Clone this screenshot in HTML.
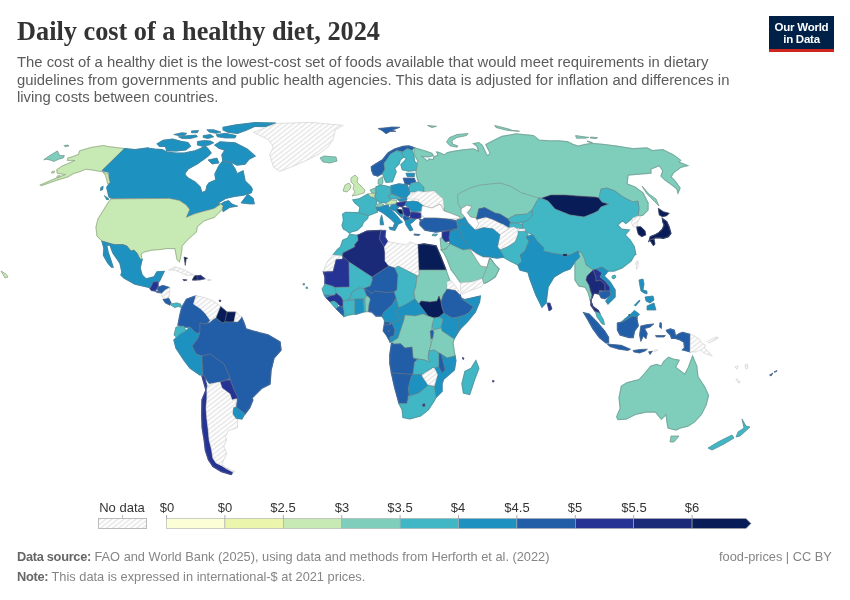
<!DOCTYPE html>
<html><head><meta charset="utf-8">
<style>
html,body{margin:0;padding:0;background:#fff;width:850px;height:600px;overflow:hidden;position:relative;font-family:"Liberation Sans",sans-serif;}
.t{position:absolute;white-space:nowrap;will-change:transform;}
#title{left:17px;top:17px;font-family:"Liberation Serif",serif;font-weight:bold;font-size:26.3px;line-height:30px;color:#333;}
#sub{left:16.5px;top:53.5px;font-size:14.85px;line-height:17.5px;color:#5b5b5b;white-space:nowrap;}
#logo{will-change:transform;position:absolute;left:769px;top:16px;width:65px;height:33px;background:#002147;border-bottom:3px solid #ce261e;color:#fff;font-weight:bold;font-size:11.5px;line-height:12.2px;text-align:center;}
#logo div{padding-top:4.5px;letter-spacing:-0.25px}
.foot{font-size:12.8px;line-height:15px;color:#858585;}
.foot b{color:#666;letter-spacing:-0.3px}
.lab{will-change:transform;position:absolute;font-size:13px;line-height:15px;color:#333;top:500px;transform:translateX(-50%);white-space:nowrap}
</style></head><body>
<div class="t" id="title">Daily cost of a healthy diet, 2024</div>
<div class="t" id="sub">The cost of a healthy diet is the lowest-cost set of foods available that would meet requirements in dietary<br>guidelines from governments and public health agencies. This data is adjusted for inflation and differences in<br>living costs between countries.</div>
<div id="logo"><div>Our World<br>in Data</div></div>

<svg id="map" width="850" height="600" style="position:absolute;left:0;top:0" viewBox="0 0 850 600">
<defs>
<pattern id="hatch" patternUnits="userSpaceOnUse" width="3.7" height="3.7" patternTransform="rotate(52)"><rect width="3.7" height="3.7" fill="#ffffff"/><rect x="0" y="0" width="1.4" height="3.7" fill="#e5e5e5"/></pattern>
</defs>
<g id="world">
<g><path d="M124.4,148.6 109.1,146.8 103.2,145.6 91.5,147.4 79.7,150.9 78.5,154.5 72.6,156.8 67.9,158 67.4,160.4 75,160.4 70.3,162.7 62.1,166.2 56.8,169.8 57.4,173.3 65.6,174.5 53.8,179.2 40.3,185.1 41.5,185.6 56.2,180.4 67.9,176.8 73.8,173.3 78.5,172.1 85.6,169.2 91.5,169.8 97.4,170.9 102.1,171.5 105.6,173 107.9,173.3 109.1,179.2 110.3,182.7 107.9,183.9 105.6,175.6 102.1,170.4Z" fill="#c7e9b4" stroke="#c7e9b4" stroke-width="1.4"/>
<path d="M52,171.5 54.5,171 54,173 51.5,173Z" fill="#c7e9b4" stroke="#c7e9b4" stroke-width="0.5"/>
<path d="M57,176 60,175.5 59.5,177 57,177.5Z" fill="#c7e9b4" stroke="#c7e9b4" stroke-width="0.5"/>
<path d="M43.8,159.8 47.9,156.8 57.4,150.9 59.7,155.6 64.4,155.6 63.2,158 58.5,159.2 53.8,161.5 51.5,160.4 46.8,159.2Z" fill="#7fcdbb" stroke="#7fcdbb" stroke-width="0.5"/>
<path d="M64,145.6 68,145 69,146 65,146.6Z" fill="#7fcdbb" stroke="#7fcdbb" stroke-width="0.5"/>
<path d="M124.4,148.6 135,149.8 148,148 150,148.6 155,149.2 162.1,149.8 166.8,152.1 176.2,153.3 185,153 195,151 200,149 205,146 208,149 211,153 208,156 204,159 197,164 188,169 185,173 185,175 188,178 195,182 200,187 202,193 206,191 207,186 209,183 216,180 215,174 219,166 223,161 231,163 235,169 237,174 243,171 245,181 251,187 252.2,189.5 251.1,192.8 243.2,195.1 234.3,196.2 225.4,198.4 216.4,204 220.9,204 217.5,206.2 214.2,208.5 201.9,211.8 194.1,214.1 186.2,217.4 189.6,209.6 186.2,205.1 179.5,200.6 169.5,198.4 135,198.6 111.5,198.6 109.1,196.8 106.8,187.4 110.3,182.7 109.1,172.1 102.1,170.4Z" fill="#1d91c0" stroke="#1d91c0" stroke-width="1.4"/>
<path d="M241,202.9 247.7,193.9 253.3,198.4 254.4,204 250,204Z" fill="#1d91c0" stroke="#1d91c0" stroke-width="0.5"/>
<path d="M220.9,204 224.2,201.8 228.7,200.6 232.1,204 237.7,206.2 229.8,207.4 223.1,211.8 222,208.5 223.1,206.2Z" fill="#1d91c0" stroke="#1d91c0" stroke-width="0.5"/>
<path d="M100.9,187.4 103.2,186.2 102.6,189.8 100.3,190.4Z" fill="#1d91c0" stroke="#1d91c0" stroke-width="0.5"/>
<path d="M104.4,195.6 109.1,199.2 106.8,199.8Z" fill="#1d91c0" stroke="#1d91c0" stroke-width="0.5"/>
<path d="M215,145 220,142 235,143 247,149 255,156 249,159 245,164 237,165 231,162 223,161 222,155 225,150 219,148Z" fill="#1d91c0" stroke="#1d91c0" stroke-width="1.4"/>
<path d="M208,160 217,158 219,163 212,164Z" fill="#1d91c0" stroke="#1d91c0" stroke-width="0.5"/>
<path d="M157.4,143.9 163.2,140.4 172.6,139.2 180.9,141.5 187.9,142.7 190.3,146.2 185.6,149.8 176.2,150.9 166.8,150.9 165.6,146.2 159.7,146.2Z" fill="#1d91c0" stroke="#1d91c0" stroke-width="1.4"/>
<path d="M197.4,141.5 204.4,140.4 210.3,140.9 213.8,142.7 209.1,145.1 202.1,146.2 197.4,145.1Z" fill="#1d91c0" stroke="#1d91c0" stroke-width="0.5"/>
<path d="M173.8,134.5 182.1,132.7 186.8,133.3 184.4,135.6 178.5,135.6Z" fill="#1d91c0" stroke="#1d91c0" stroke-width="0.5"/>
<path d="M178.5,136.8 187.9,135.6 196.2,135.1 197.4,136.8 190.3,138.6 182.1,138.6Z" fill="#1d91c0" stroke="#1d91c0" stroke-width="0.5"/>
<path d="M191.5,130.9 198.5,130.4 197.4,132.7 191.5,132.7Z" fill="#1d91c0" stroke="#1d91c0" stroke-width="0.5"/>
<path d="M203.2,135.6 210.3,134.5 213.8,136.8 207.9,138.6 203.2,137.4Z" fill="#1d91c0" stroke="#1d91c0" stroke-width="0.5"/>
<path d="M206.8,129.8 213.8,129.8 220.9,132.1 216.2,133.3 209.1,132.1Z" fill="#1d91c0" stroke="#1d91c0" stroke-width="0.5"/>
<path d="M216.2,134.5 225.6,133.3 236.2,135.6 235,138 225.6,138 217.4,136.8Z" fill="#1d91c0" stroke="#1d91c0" stroke-width="0.5"/>
<path d="M223.2,127.4 235,125.1 255,122.7 276,123.3 266,126.5 255,126.2 246.8,129.8 237.4,133.3 228,132.1 223.2,129.8Z" fill="#1d91c0" stroke="#1d91c0" stroke-width="1.4"/>
<path d="M253.8,132.3 276,123.6 310.6,122.4 342.7,125.4 335.3,129.8 332.8,139.7 327.9,147.1 318,154.5 303.2,161.9 288.3,168.1 279.7,171.3 273.5,166.9 269.8,154.5 273.5,147.1 268.6,139.7 258.7,134.8Z" fill="#fff" stroke="#f2f2f2" stroke-width="1.4"/>
<path d="M320,158 324,156 336,157 337,161 330,163 323,162Z" fill="#7fcdbb" stroke="#7fcdbb" stroke-width="0.5"/>
<path d="M378,128.5 386,127.8 392,127 400,127.3 396,128.8 392,130 396,131.5 390,131.5 386,133.8 382,130.5Z" fill="#225ea8" stroke="#225ea8" stroke-width="0.5"/>
<path d="M457,147.2 450,145.8 446.5,142 449.5,137.5 457,134.5 468.2,133.5 466.5,135.5 457,137.5 452,140.5 452.5,144 458,146Z" fill="#7fcdbb" stroke="#7fcdbb" stroke-width="0.5"/>
<path d="M427.6,125.5 436.5,126.3 432,127.5Z" fill="#7fcdbb" stroke="#7fcdbb" stroke-width="0.5"/>
<path d="M494.7,125.5 508.8,129 512.3,130.4 519.4,131.2 508,130.5 496,127.5Z" fill="#7fcdbb" stroke="#7fcdbb" stroke-width="0.5"/>
<path d="M371.4,166.8 375.6,164 382.6,159.8 388.3,152.7 394.6,149.2 403.1,146.4 408.8,146 414.4,147.8 411.6,149.9 407.3,148.5 403.1,151.3 396.8,150.6 390.4,154.1 386.2,160.5 384,163.3 384.8,169.6 382.6,173.2 377.7,176 373.5,174.6 371.7,170.3Z" fill="#225ea8" stroke="#225ea8" stroke-width="1.4"/>
<path d="M386.2,160.5 390.4,154.1 396.8,150.6 401.7,152.7 403.8,156.9 400.3,159.8 398.9,164 394.6,168.2 396.1,171.8 393.9,177.4 392.5,181.6 386.2,182.3 384.8,179.5 382.6,173.2 384.8,169.6 384,163.3Z" fill="#41b6c4" stroke="#41b6c4" stroke-width="1.4"/>
<path d="M401.7,152.7 407.3,148.5 411.6,149.9 413.7,154.1 414.4,161.2 418.6,165.4 415.8,170.3 408.8,171.1 402.4,169.6 401,164.7 404.5,161.2 406.6,158.3 403.8,156.9Z" fill="#41b6c4" stroke="#41b6c4" stroke-width="1.4"/>
<path d="M351,178 355,175 358,178 357,182 361,186 365,190 364,193 357,195 352,196 355,192 353,189 354,185 351,182Z" fill="#c7e9b4" stroke="#c7e9b4" stroke-width="0.5"/>
<path d="M343,191 345,185 349,183 351,186 350,189 347,192Z" fill="#c7e9b4" stroke="#c7e9b4" stroke-width="0.5"/>
<path d="M353,200 359,199 368,194 371,197 377,200 376,205 377,210 377.3,212.1 368.2,215.6 359,212.8 360,207 355,203Z" fill="#41b6c4" stroke="#41b6c4" stroke-width="1.4"/>
<path d="M342.8,214.2 345.6,212.4 359,212.8 368.2,215.6 367.5,218.4 363.2,222.6 361.8,226.2 356.9,230.4 351.2,231.8 349.8,233.2 346.3,230.4 343.5,229 342.1,225.5 343.5,220.5Z" fill="#41b6c4" stroke="#41b6c4" stroke-width="1.4"/>
<path d="M368,194 374,193 375,197 371,197Z" fill="#c7e9b4" stroke="#c7e9b4" stroke-width="0.5"/>
<path d="M370,190 375,188 376,193 372,193Z" fill="#7fcdbb" stroke="#7fcdbb" stroke-width="0.5"/>
<path d="M376,187 381,185 390,187 391,194 388,196 391,200 388,203 379,202 377,200 375,197 376,193Z" fill="#41b6c4" stroke="#41b6c4" stroke-width="1.4"/>
<path d="M378.4,179.5 382.6,176.7 383,183 381,185 378,184Z" fill="#7fcdbb" stroke="#7fcdbb" stroke-width="0.5"/>
<path d="M391,186 399,184 407,185 409,190 410,195 407,198 400,197 392,194Z" fill="#1d91c0" stroke="#1d91c0" stroke-width="1.4"/>
<path d="M405.9,173.2 414.4,173.2 414.4,176.7 407.3,176.7Z" fill="#1d91c0" stroke="#1d91c0" stroke-width="0.5"/>
<path d="M403.1,178.1 414.4,178.1 415.8,182 413,183 411,185 405,184 404,181Z" fill="#225ea8" stroke="#225ea8" stroke-width="0.5"/>
<path d="M411,183 420,182 424,187 424,192 420,192 410,192 409,187Z" fill="#41b6c4" stroke="#41b6c4" stroke-width="0.5"/>
<path d="M388,196 392,194 400,197 397,199 391,199Z" fill="#41b6c4" stroke="#41b6c4" stroke-width="0.5"/>
<path d="M397,199 407,198 407,200 400,201.5Z" fill="#1d91c0" stroke="#1d91c0" stroke-width="0.5"/>
<path d="M385,204 391,200 397,200.5 396,204 389,204.5Z" fill="#c7e9b4" stroke="#c7e9b4" stroke-width="0.5"/>
<path d="M375,205 381,203 384,205 381,207 376,207Z" fill="#7fcdbb" stroke="#7fcdbb" stroke-width="0.5"/>
<path d="M391,205 396,204 399,207 397,209 402,210 403,214 402,218 395,211 390,209Z" fill="#1d91c0" stroke="#1d91c0" stroke-width="0.5"/>
<path d="M396,203 407,201 405,205 402,207 397,206Z" fill="#253494" stroke="#253494" stroke-width="0.5"/>
<path d="M406,202 413,201 419,202 423,205 422,211 412,212 409,208 405,205Z" fill="#1d91c0" stroke="#1d91c0" stroke-width="0.5"/>
<path d="M419,200 423,201 424,206 423,205Z" fill="#41b6c4" stroke="#41b6c4" stroke-width="0.5"/>
<path d="M410,213 412,212 421,213 421,218 415,219 410,218Z" fill="#253494" stroke="#253494" stroke-width="0.5"/>
<path d="M402,207 409,208 411,214 408,217 404,215 403,210Z" fill="#253494" stroke="#253494" stroke-width="0.5"/>
<path d="M396,209 402,210 403,214 400,214Z" fill="#081d58" stroke="#081d58" stroke-width="0.5"/>
<path d="M404,215 408,217 410,218 410,219 405,221 403,218Z" fill="#225ea8" stroke="#225ea8" stroke-width="0.5"/>
<path d="M380,207 388,205 390,209 395,214 400,220 402,222 398,224 396,228 393,228 395,223 391,219 386,215 382,212 380,211 377,210 376,207Z" fill="#1d91c0" stroke="#1d91c0" stroke-width="1.4"/>
<path d="M389,227 396,228 395,230.5 390,229.5Z" fill="#1d91c0" stroke="#1d91c0" stroke-width="0.5"/>
<path d="M381.6,214.9 382.3,217.7 383.7,224.8 380.2,224.8 380.2,219.8Z" fill="#1d91c0" stroke="#1d91c0" stroke-width="0.5"/>
<path d="M405,221 410,219 416,219 413,222 410,224 413,230 410,231 406,225Z" fill="#1d91c0" stroke="#1d91c0" stroke-width="0.5"/>
<path d="M414,234 420,234.5 419,235.5 414,235Z" fill="#225ea8" stroke="#225ea8" stroke-width="0.5"/>
<path d="M414.2,147.8 419.1,149.2 426.2,151.3 431.8,153.4 433.2,155.5 428.3,156.9 421.2,156.2 424.1,158.3 427.6,161.2 429,159.1 433.2,159.8 433.9,156.9 438.2,155.5 436.8,152 439.6,152.7 442.4,154.1 444.5,154.8 447.3,152.7 454.4,151.3 462.9,149.9 464.7,149.8 473.5,148.9 478.8,151.5 477,146.2 473.5,143.6 478.8,142.7 482.3,145.4 485.9,153.3 487.6,155.9 490.3,153.3 485.9,144.5 492.9,141 501.8,136.5 515.9,133.9 533.5,135.6 538.8,140.1 550,140.9 558.8,140.9 567.6,141.8 572.9,144.4 578.2,146.2 585.3,144.4 592.4,143.5 602.9,144.4 617,146.2 627.6,147.9 632.9,148.8 647,147.9 652.3,150.6 662.9,149.7 673.5,155 680.6,160.3 678.8,162.1 687.6,165.6 680.6,167.4 673.5,172.6 671,177 675,181 680,188 678,193 677,189 672,185 665,180 661,176 662.9,170.9 659.4,165.6 650.6,169.1 651,173 628,175 627,184 635,187 643,193 648,203 648,210 643,215 640,215.8 638.3,215.8 639,208 638,201 633,202 623,197 615,191 607,188 601,189 599,198 595,197 565,195 551,195 542,198 539,198 537,201 532,210 527,214 515,215 508,219 500,214 495,213 484.7,207.6 478.8,208.8 476.5,218.2 470.6,217 467,212.4 469.4,210 471.8,206.5 467,205.3 461.2,208.8 461.2,212.4 464.7,217 462,219 457,220 460,217 450,213 444,211 444,208 443,199 434,191 424,192 424,187 418,181 416,173 417,167 418,161 414,154Z" fill="#7fcdbb" stroke="#7fcdbb" stroke-width="1.4"/>
<path d="M642,186 649,194 656,199 659,206 655,202 647,194Z" fill="#7fcdbb" stroke="#7fcdbb" stroke-width="0.5"/>
<path d="M575.6,135.6 588.8,137.4 585.3,138.2 576.5,138.2Z" fill="#7fcdbb" stroke="#7fcdbb" stroke-width="0.5"/>
<path d="M590.6,137 597.6,137.7 596,138.5 590,138Z" fill="#7fcdbb" stroke="#7fcdbb" stroke-width="0.5"/>
<path d="M587,140.9 592.4,142.6 588,142Z" fill="#7fcdbb" stroke="#7fcdbb" stroke-width="0.5"/>
<path d="M542,198 551,195 565,195 576,196 592,197 595,197 599,198 602,202 609,204 601,207 598,211 594,213 584,217 570,215 555,209 548,201Z" fill="#081d58" stroke="#081d58" stroke-width="1.4"/>
<path d="M539,198 542,199 548,201 555,209 570,215 584,217 594,213 598,211 601,207 609,204 602,202 599,198 601,189 607,188 615,191 623,197 633,202 638,201 639,208 638.3,215.8 632.5,218.3 625.8,223.3 622.5,220.8 617.5,225 621.7,229.2 629.2,230 625,235 630,240 634.2,246.7 635.8,255 635,254 631,261 622,268 614,271 608,271 602,267 596,269 593,270 586,265 584,258 581,252 582,253 578,251 570,255 562,255 551,253 543,251 544,248 537,241 533,235 525,231 522,225 523,222 528,220 532,216 532,210 537,201Z" fill="#41b6c4" stroke="#41b6c4" stroke-width="1.4"/>
<path d="M632.5,218.3 638.3,215.8 640,217.5 636.7,224.2 638.3,226.7 633.3,226.7 631.7,223.3Z" fill="#fff" stroke="#f2f2f2" stroke-width="1.4"/>
<path d="M636.7,226.7 640.8,226.7 645,230.8 645.8,235 641.7,236.7 638.3,234.2 637.1,230Z" fill="#081d58" stroke="#081d58" stroke-width="0.5"/>
<path d="M658.3,208.3 663.3,211.7 669.2,213.3 666.7,215.8 662.5,216.7 659.2,215Z" fill="#081d58" stroke="#081d58" stroke-width="0.5"/>
<path d="M662.5,218.75 666.7,221.7 669.2,227.5 670.8,233.3 668.3,236.7 663.3,238.3 659.2,237.5 655,237.9 651.7,239.2 649.2,240.8 650.4,236.7 655,235 659.2,232.5 662.5,229.2 664.2,225 662.9,221.7Z" fill="#081d58" stroke="#081d58" stroke-width="1.4"/>
<path d="M649.2,240 654.2,239.2 655,244.2 653.3,245.8 650.8,241.7Z" fill="#081d58" stroke="#081d58" stroke-width="0.5"/>
<path d="M111,199 169.5,198.4 179.5,200.6 186.2,205.1 189.6,209.6 186.2,217.4 194.1,214.1 201.9,211.8 214.2,208.5 217.5,206.2 220.9,204 223.1,206.2 222,208.5 223.1,208.5 214.2,217.4 204.1,220.8 197.4,226.4 196.3,232 187.4,239.8 182,246 181.8,250 180.6,257 179.4,261.8 177,259.4 175.9,253.5 175,248.5 166,248.5 160,249.5 152,250 144,252 141,254 142,259.5 140,259 137,253 134,250 131,251 127,246 123,244.5 114,244.5 107,242.5 102,241 97,236 96,227 98,219 108,203Z" fill="#c7e9b4" stroke="#c7e9b4" stroke-width="1.4"/>
<path d="M1,271 6,274 8,277 5,278Z" fill="#c7e9b4" stroke="#c7e9b4" stroke-width="0.5"/>
<path d="M102,241 107,242.5 114,244.5 123,244.5 127,246 131,251 134,250 137,253 140,259 142,259.5 140,268 142,275 146,279 154,277 157,272 164,271.5 160,280 158,283 158.2,281.8 153.5,281.8 150,288.8 150,287.5 135,284 124,278 121,275 122,272 120,263 113,253 110,245 106.5,245 108,252 110,258 113,267 111.5,267 108,263 105,258 103.5,255 104,248Z" fill="#1d91c0" stroke="#1d91c0" stroke-width="1.4"/>
<path d="M150,288.8 153.5,281.8 158.2,281.8 158.2,286.5 155.3,291.2 151.2,290.6Z" fill="#253494" stroke="#253494" stroke-width="0.5"/>
<path d="M157.1,287.6 162.9,285.3 170,287.6 165.3,290 161.8,293.5 158.2,291.2Z" fill="#225ea8" stroke="#225ea8" stroke-width="0.5"/>
<path d="M155.3,291.2 158.2,291.2 160.6,292.9 157,292.5Z" fill="#225ea8" stroke="#225ea8" stroke-width="0.5"/>
<path d="M161.8,293.5 165.3,290 170,287.6 168.8,297.1 165.3,299.4 161.8,295.9Z" fill="#fff" stroke="#f2f2f2" stroke-width="1.4"/>
<path d="M162.9,299.4 168.8,298.2 171.2,302.9 170,305.3 165.3,302.9Z" fill="#225ea8" stroke="#225ea8" stroke-width="0.5"/>
<path d="M170,304.1 177.1,302.9 180.6,304.1 181.8,307.6 178.2,306.5 174.7,307.6 171.2,305.3Z" fill="#41b6c4" stroke="#41b6c4" stroke-width="0.5"/>
<path d="M168.8,270 174.7,267.1 181.8,268.8 188.8,272.4 193.5,274.7 186.5,275.3 180.6,272.4 174.7,270Z" fill="#fff" stroke="#f2f2f2" stroke-width="1.4"/>
<path d="M194.7,275.9 200.6,275.3 205.3,278.8 199.4,280 192.4,280Z" fill="#1a2a78" stroke="#1a2a78" stroke-width="0.5"/>
<path d="M194.7,275.9 197,275.6 197,280 192.4,280Z" fill="#081d58" stroke="#081d58" stroke-width="0.5"/>
<path d="M182.9,279.4 187.1,280 184.1,280.8Z" fill="#081d58" stroke="#081d58" stroke-width="0.5"/>
<path d="M207.6,279.4 211.2,280 208,280.6Z" fill="#fff" stroke="#f2f2f2" stroke-width="1.4"/>
<path d="M184.1,257.1 187.6,258.2 186,259 185.3,265.3 184.5,259Z" fill="#081d58" stroke="#081d58" stroke-width="0.5"/>
<path d="M219,300 221,300.5 220,302Z" fill="#081d58" stroke="#081d58" stroke-width="0.5"/>
<path d="M181.8,307.6 186.5,299.4 195.9,295.9 193.5,304.1 200.6,308.8 205.3,313.5 210,320 206,324 200,323 200,333 196,333 190,327 184,327 178,325 180,315Z" fill="#225ea8" stroke="#225ea8" stroke-width="1.4"/>
<path d="M195.9,295.9 202.9,297.1 212.4,300.6 220.6,306.5 216,318 214.7,318.2 211.2,320 210,320 205.3,313.5 200.6,308.8 193.5,304.1Z" fill="#fff" stroke="#f2f2f2" stroke-width="1.4"/>
<path d="M220.6,306.5 227,312 225,322 222.4,323 216,318Z" fill="#081d58" stroke="#081d58" stroke-width="0.5"/>
<path d="M227,312 236,312 234,322 225,322Z" fill="#081d58" stroke="#081d58" stroke-width="0.5"/>
<path d="M236,312 241.7,317.5 238,322 234,322Z" fill="#fff" stroke="#f2f2f2" stroke-width="1.4"/>
<path d="M176,327 184,326 186,331 178,339 174,335Z" fill="#41b6c4" stroke="#41b6c4" stroke-width="0.5"/>
<path d="M547,303 550,303 552,309 549,311Z" fill="#253494" stroke="#253494" stroke-width="0.5"/>
<path d="M575,253 581,252 584,258 586,265 593,270 587,276 586,280 589,285 590,290 592,295 591,300 590.4,300 588,292 585,287 579,286 575,280Z" fill="#7fcdbb" stroke="#7fcdbb" stroke-width="1.4"/>
<path d="M587,276 593,270 596,277 596,281 600,280 605,284 605,291 600,290 599,294 594,293 592,298 590.4,300 592.9,306.5 598.1,310.4 599.4,312.9 595.5,311.6 591,305.2 591,300 592,295 589,285 586,280Z" fill="#1a2a78" stroke="#1a2a78" stroke-width="1.4"/>
<path d="M593,270 597,269 602,273 600,277 605,281 610,287 610,291 605,291 605,284 600,280 596,281 596,277Z" fill="#253494" stroke="#253494" stroke-width="0.5"/>
<path d="M599,292 605,291 610,291 611,295 605,299 601,298 599,294 600,290Z" fill="#225ea8" stroke="#225ea8" stroke-width="0.5"/>
<path d="M596,269 602,267 608,271 604,276 610,282 615,290 615,297 608,304 606,301 611,295 610,291 610,287 605,281 600,277 602,273Z" fill="#1d91c0" stroke="#1d91c0" stroke-width="1.4"/>
<path d="M612,276 615,275 616,277 614,279 612,278Z" fill="#41b6c4" stroke="#41b6c4" stroke-width="0.5"/>
<path d="M636,262 638,261 638,267 636.5,269Z" fill="#fff" stroke="#f2f2f2" stroke-width="1.4"/>
<path d="M595.5,311.6 599.4,312.9 603.3,319.4 604.6,324.6 602,323.9 596.8,316.8Z" fill="#41b6c4" stroke="#41b6c4" stroke-width="0.5"/>
<path d="M618.8,324.6 624,319.4 630.5,314.2 634.4,310.4 639.5,314.2 636.9,316.8 631.8,316.8 622.7,322Z" fill="#1d91c0" stroke="#1d91c0" stroke-width="0.5"/>
<path d="M628.5,315 630,314.6 629.8,316Z" fill="#081d58" stroke="#081d58" stroke-width="0.5"/>
<path d="M583.9,312.9 589.1,314.2 596.8,322 604.6,331.1 608.5,337.5 608.5,342.7 605.9,342.7 599.4,337.5 592.9,328.5 587.8,319.4Z" fill="#225ea8" stroke="#225ea8" stroke-width="1.4"/>
<path d="M607.2,344 613.6,344.6 621.4,345.3 630.5,349.2 627.9,350.5 618.8,349.2 609.8,346.6Z" fill="#225ea8" stroke="#225ea8" stroke-width="0.5"/>
<path d="M617.5,323.3 622.7,322 631.8,316.8 636.9,316.8 636.9,319.4 638.2,325.9 634.4,331.1 633.1,337.5 629.2,337.5 620.1,334.9 617.5,329.8Z" fill="#225ea8" stroke="#225ea8" stroke-width="1.4"/>
<path d="M640.8,325.9 647.3,324.6 653.8,323.9 649.9,327.2 644.7,328.5 647.3,333.6 646,338.8 643.4,336.2 640.8,341.4 639.5,334.9Z" fill="#225ea8" stroke="#225ea8" stroke-width="0.5"/>
<path d="M633.1,350.5 640,349.5 647.3,349.2 645,351 639.5,353 634,352Z" fill="#225ea8" stroke="#225ea8" stroke-width="0.5"/>
<path d="M648.6,351.8 652.5,351.2 650,354.4Z" fill="#225ea8" stroke="#225ea8" stroke-width="0.5"/>
<path d="M660,322.5 661.5,323 661.5,328.5 659.5,327Z" fill="#225ea8" stroke="#225ea8" stroke-width="0.5"/>
<path d="M655.5,335.5 665.4,335.6 664,337 656.4,337Z" fill="#225ea8" stroke="#225ea8" stroke-width="0.5"/>
<path d="M653.8,350.5 657.6,349.8 655.1,351.8Z" fill="#fff" stroke="#f2f2f2" stroke-width="1.4"/>
<path d="M639,280 643,279 644,284 643,290 647,291 647,294 644,293 641,291 640,286Z" fill="#1d91c0" stroke="#1d91c0" stroke-width="0.5"/>
<path d="M645,297 653,296 654,300 650,303 646,301Z" fill="#1d91c0" stroke="#1d91c0" stroke-width="0.5"/>
<path d="M647,306 654,303 656,310 647,310Z" fill="#1d91c0" stroke="#1d91c0" stroke-width="0.5"/>
<path d="M634.4,305.2 639.5,300 640,301 635.5,306Z" fill="#1d91c0" stroke="#1d91c0" stroke-width="0.5"/>
<path d="M210,323 216,318 222.4,323 225,322 234,322 238,322 241.7,317.5 244,323 246,329 260,333 268,335 270,336 280,342 281,350 274,358 271,370 270,384 262,388 252,398 252.8,400 249.7,407.7 245.1,413.8 235.9,406.9 238,398 234,390 230,378 224,364 210,354 202,356 196,354 192,346 198,338 200,330 200,323 206,324Z" fill="#225ea8" stroke="#225ea8" stroke-width="1.4"/>
<path d="M174,340 180,334 186,331 190,327 196,333 200,333 198,338 192,346 196,354 202,356 203,374 200,375 190,368 184,360 176,348Z" fill="#1d91c0" stroke="#1d91c0" stroke-width="1.4"/>
<path d="M202,356 210,354 224,364 230,378 220,382 210,384 204,376 203,374Z" fill="#225ea8" stroke="#225ea8" stroke-width="1.4"/>
<path d="M220,382 230,380 234,390 238,398 232,400 230,394 222,388Z" fill="#253494" stroke="#253494" stroke-width="1.4"/>
<path d="M202,376 206,390 202,400 201.8,415.3 202.2,427.6 204.2,439.9 205.5,450.6 208.5,459.8 213,466.5 221.5,471.5 231,474.5 232.9,472.1 226.7,469 222.1,465.9 216,462.9 212.9,458.3 211.4,449.1 209.1,439.9 208.3,430.7 206.8,418.4 206,407.7 206.8,400 208,390 204,376Z" fill="#253494" stroke="#253494" stroke-width="1.4"/>
<path d="M206.8,388 210,384 220,382 222,388 230,394 232,400 236,399 235.9,406.9 233.6,407.7 232.9,413.8 237.5,419.9 237.5,427.6 228.3,430.7 225.2,436.8 226.7,439.9 223.7,446 226.7,453.7 223.7,459.8 222.1,464.4 226.7,469 234.4,471.3 232.9,472.1 226.7,469 222.1,465.9 216,462.9 212.9,458.3 211.4,449.1 209.1,439.9 208.3,430.7 206.8,418.4 206,407.7 206.8,400Z" fill="#fff" stroke="#f2f2f2" stroke-width="1.4"/>
<path d="M233.6,407.7 235.9,406.9 245.1,413.8 242.1,419.2 235.9,418.4 232.9,413.8Z" fill="#1d91c0" stroke="#1d91c0" stroke-width="0.5"/>
<path d="M475.8,360.7 478.8,368.3 474.2,380.6 469.6,394.4 463.5,392.9 462,383.7 465,371.4 471.2,368.3Z" fill="#41b6c4" stroke="#41b6c4" stroke-width="1.4"/>
<path d="M666.5,330.4 670.4,329.1 674.2,330.4 675.5,336.2 679.4,333.6 682.7,332.4 690.4,334.6 690.1,351.8 685.9,350.5 682.7,349.8 684.6,347.9 684,342.1 679.4,339.5 674.9,338.2 671.7,338.2 670.4,334.9 667.1,331.7Z" fill="#225ea8" stroke="#225ea8" stroke-width="1.4"/>
<path d="M690.4,334.6 693.7,335.6 698.8,338.8 702.1,343.4 705.3,345.3 704,347.9 709.2,352.4 711.8,355.7 705.3,353.7 700.1,349.8 696.2,351.8 690.1,351.8Z" fill="#fff" stroke="#f2f2f2" stroke-width="1.4"/>
<path d="M707.5,341.4 716,337 718.3,338 709,343Z" fill="#fff" stroke="#f2f2f2" stroke-width="1.4"/>
<path d="M769.6,375.1 773,373 771,376Z" fill="#225ea8" stroke="#225ea8" stroke-width="0.5"/>
<path d="M774,372 777,370.5 776,372Z" fill="#225ea8" stroke="#225ea8" stroke-width="0.5"/>
<path d="M735,367 738,366 737,369Z" fill="#fff" stroke="#f2f2f2" stroke-width="1.4"/>
<path d="M745,365 747,364 748,368 746,369Z" fill="#fff" stroke="#f2f2f2" stroke-width="1.4"/>
<path d="M737,379 740,382 739,383 736,380Z" fill="#fff" stroke="#f2f2f2" stroke-width="1.4"/>
<path d="M616.7,416.7 620.2,408.5 619.1,397.9 621.4,386.1 627.3,382.6 639.1,379.6 645,373.2 650.8,366.1 656.7,364.4 661.4,366.1 663.8,361.4 668.5,357.3 673.2,359.1 679.1,360.2 675.5,367.3 684.9,374.4 688.5,367.3 692.6,356.1 696.7,366.1 697.9,376.7 704.9,387.3 708.5,395.5 706.1,404.9 701.4,414.4 694.4,422 688,426 680,428 676,430 668,428 667,422 666.1,414.4 661.4,419.1 655.5,412 646.1,412 635.5,414.4 626.1,419.1 617.9,419.6Z" fill="#7fcdbb" stroke="#7fcdbb" stroke-width="1.4"/>
<path d="M671,436 679,436 674,442 670,442Z" fill="#7fcdbb" stroke="#7fcdbb" stroke-width="0.5"/>
<path d="M742,419 746,426 750,427 740,436 736,437 738,432 744,428Z" fill="#41b6c4" stroke="#41b6c4" stroke-width="0.5"/>
<path d="M732,435 734,438 724,444 712,450 708,448 718,442Z" fill="#41b6c4" stroke="#41b6c4" stroke-width="0.5"/>
<path d="M409,195 418,191 424,192 434,191 443,199 444,208 440,204 432,208 424,206 423,205 419,202 418,199 410,199 407,198Z" fill="#fff" stroke="#f2f2f2" stroke-width="1.4"/>
<path d="M422,206 424,206 432,208 440,204 444,211 450,213 460,217 459,219 448,219 436,218 425,218 422,216 421,213Z" fill="#fff" stroke="#fff" stroke-width="0.6"/>
<path d="M461.2,208.8 467,205.3 471.8,206.5 469.4,210 467,212.4 470.6,217 476.5,218.2 478.8,224 475.3,230 470.6,227.6 468.2,223 464.7,217 461.2,212.4Z" fill="#fff" stroke="#fff" stroke-width="0.6"/>
<path d="M420,222 425,218 436,218 448,219 456,221 458,228 450,230 442,231 436,232 425,230 420,225Z" fill="#225ea8" stroke="#225ea8" stroke-width="1.4"/>
<path d="M419,219 423,220 421,221.5Z" fill="#225ea8" stroke="#225ea8" stroke-width="0.5"/>
<path d="M457,220 462,219 464.7,217 468.2,223 469.4,224 465,228 458,228Z" fill="#1d91c0" stroke="#1d91c0" stroke-width="0.5"/>
<path d="M476.5,219.4 485.9,217 492.9,219.4 502.4,224.1 509.4,228.8 500,234.7 492.9,228.8 483.5,227.6 475.3,230 478.8,224Z" fill="#fff" stroke="#f2f2f2" stroke-width="1.4"/>
<path d="M478.8,208.8 484.7,207.6 495,213 500,214 508,219 511,223 509,228 502.4,224.1 492.9,219.4 485.9,217 476.5,219.4 476.5,218.2Z" fill="#225ea8" stroke="#225ea8" stroke-width="1.4"/>
<path d="M508,219 515,215 527,214 532,210 532,216 528,220 523,222 515,223 511,223Z" fill="#41b6c4" stroke="#41b6c4" stroke-width="1.4"/>
<path d="M510,223 515,223 522,224 523,229 517,229 514,227 509,228Z" fill="#41b6c4" stroke="#41b6c4" stroke-width="0.5"/>
<path d="M502.4,224.1 509,228 514,227 517,229 519,228 518,235 515,242 507,247 500,250 496,247 497.6,246.5 500,234.7 509.4,228.8Z" fill="#fff" stroke="#f2f2f2" stroke-width="1.4"/>
<path d="M518,231 525,231 528,235 526,237 529,241 525,251 520,255 522,261 518,265 510,261 500,255 500,250 507,247 515,242 518,235Z" fill="#41b6c4" stroke="#41b6c4" stroke-width="1.4"/>
<path d="M526,237 533,235 537,241 544,248 543,251 551,253 565,255 570,255 578,251 580,257 574,263 570,269 564,271 554,277 548,287 546,303 542,307 536,295 530,279 528,272 520,270 518,265 522,261 520,255 525,251 529,241Z" fill="#1d91c0" stroke="#1d91c0" stroke-width="1.4"/>
<path d="M563,254 567,254 567,256 563,256Z" fill="#081d58" stroke="#081d58" stroke-width="0.5"/>
<path d="M518,229 525,229 525,231 518,231Z" fill="#fff" stroke="#f2f2f2" stroke-width="1.4"/>
<path d="M458.8,224 469.4,224 475.3,230 483.5,227.6 492.9,228.8 500,234.7 497.6,246.5 500,250 504,257 497,258 491,257 483,257 477,254 470,249 469,246 463,239 459,229 457.6,228.8Z" fill="#1d91c0" stroke="#1d91c0" stroke-width="1.4"/>
<path d="M450,231 459,229 463,239 469,246 470,249 463,250 450,244 449,238Z" fill="#1d91c0" stroke="#1d91c0" stroke-width="1.4"/>
<path d="M442,232 453,230 454,230.5 450,231 449,238 450,241 445,242 442,238Z" fill="#253494" stroke="#253494" stroke-width="0.5"/>
<path d="M440,238.2 442,238 445,242 450,244 446,249 441.2,250Z" fill="#7fcdbb" stroke="#7fcdbb" stroke-width="0.5"/>
<path d="M433,234 437.6,234 436,236 432,235.5Z" fill="#41b6c4" stroke="#41b6c4" stroke-width="0.5"/>
<path d="M441.2,250 446,249 450,244 463,250 470,249 473,254 478,262 481,266 487,267 490,258 495,265 499,269 495,277 489,281 485,283 482.3,278.5 471.8,282 460.5,282.7 456.2,276.4 451.3,270 447,259 444,253Z" fill="#7fcdbb" stroke="#7fcdbb" stroke-width="1.4"/>
<path d="M469.5,248.5 477,254 483,257 490,257.5 489,259 487,267 481,266 478,262 473,254Z" fill="#fff" stroke="#fff" stroke-width="0.6"/>
<path d="M460.5,282.7 471.8,282 482.3,278.5 483.8,283.4 480.9,286.9 468.2,291.2 462.6,294 460.5,290.5Z" fill="#fff" stroke="#f2f2f2" stroke-width="1.4"/>
<path d="M487,267 490,258 495,265 499,269 495,277 489,281 485,283 483.8,283.4 482.3,278.5 485,272Z" fill="#7fcdbb" stroke="#7fcdbb" stroke-width="1.4"/>
<path d="M349.8,234.6 357.6,235.3 358.3,240.3 354.8,244.5 354.8,247 343,253 342.5,256 333,255 338,249 340.6,247 342.8,240.3 347.7,238.2Z" fill="#41b6c4" stroke="#41b6c4" stroke-width="1.4"/>
<path d="M333,255 342.5,256 342.5,259 336,259.5 333,271 323.5,271.5 327,262Z" fill="#fff" stroke="#f2f2f2" stroke-width="1.4"/>
<path d="M323.5,272 333,271.5 336,259.5 342.5,259 342.5,256 349,262 349.5,287 335,287.5 332,286 325,284 325,277Z" fill="#253494" stroke="#253494" stroke-width="1.4"/>
<path d="M342.5,256 343,253 354.8,247 354.8,244.5 358.3,240.3 357.6,235.3 366.8,231.1 380.9,230.4 379.5,238.9 384.4,247 385,252 385,261 389,266 372,277 349,262Z" fill="#1a2a78" stroke="#1a2a78" stroke-width="1.4"/>
<path d="M380.9,230.4 385.8,230.4 385.1,236.8 387.9,241.7 384.4,247 379.5,238.9Z" fill="#253494" stroke="#253494" stroke-width="0.5"/>
<path d="M384.4,247 387.9,241.7 395,243 406,245 410,242 418,245 419,255 419,276 398,266 395,268 389,266 385,261 385,252Z" fill="#fff" stroke="#f2f2f2" stroke-width="1.4"/>
<path d="M418,245 424,244 430,245 436,246 440,255 444,265 446,270 419,270Z" fill="#081d58" stroke="#081d58" stroke-width="1.4"/>
<path d="M349,262 372,277 372.5,280 370.5,286 364,288.5 359,288 352,292 350,298 347,300 344,301 341,297 336,293 335,287.5 349.5,287Z" fill="#41b6c4" stroke="#41b6c4" stroke-width="1.4"/>
<path d="M372,277 389,266 395,268 398,275 397,290 394,292 386,292.5 375,291 371,294 364,288.5 370.5,286 372.5,280Z" fill="#225ea8" stroke="#225ea8" stroke-width="1.4"/>
<path d="M395,268 398,266 417,276 416,286 414,292 415,299 405,305 399,308 396,298 394,292 397,290 398,275Z" fill="#41b6c4" stroke="#41b6c4" stroke-width="1.4"/>
<path d="M419,270 446,270 447,273 450,281 447,285 447,290 443,295 441,302 439,296 437,301 430,302 421,301 419,304 415,299 414,292 416,286 417,276 419,276Z" fill="#7fcdbb" stroke="#7fcdbb" stroke-width="1.4"/>
<path d="M419,304 421,301 430,302 437,301 439,296 441,302 442,307 444,313 439,317 434,318 428,316 425,312Z" fill="#081d58" stroke="#081d58" stroke-width="1.4"/>
<path d="M447,282 451.3,280.6 457,288.3 460.5,293.3 459.8,294.7 455.5,290.5 447,289Z" fill="#fff" stroke="#f2f2f2" stroke-width="1.4"/>
<path d="M443.5,294.7 447,289 455.5,290.5 459.8,294.7 461.2,298.2 464.7,301 473.2,306.7 469.6,312 465,315 458,317 452,318 445,314 444,313 442,307 441,302Z" fill="#225ea8" stroke="#225ea8" stroke-width="1.4"/>
<path d="M461.2,298.2 464.7,299.6 480.2,296.1 479.5,301.8 475.3,312 467,322 461,328 458,332 458,317 465,315 469.6,312 473.2,306.7 464.7,301Z" fill="#1d91c0" stroke="#1d91c0" stroke-width="1.4"/>
<path d="M443,319 439,317 444,313 445,314 452,318 458,317 458,332 454,339 442,331 441,328Z" fill="#1d91c0" stroke="#1d91c0" stroke-width="1.4"/>
<path d="M434,318 439,317 443,319 441,328 433,330 432,325Z" fill="#41b6c4" stroke="#41b6c4" stroke-width="0.5"/>
<path d="M322,289 325,284 332,286 335,287.5 336,293 334,295 330,295 324,295 323,292Z" fill="#41b6c4" stroke="#41b6c4" stroke-width="0.5"/>
<path d="M324,295 330,295 330,297 326,298Z" fill="#1d91c0" stroke="#1d91c0" stroke-width="0.5"/>
<path d="M326,298 330,296 335,295 336,293 341,297 343,301 343,307 340,306 337,303 334,301 330,302Z" fill="#253494" stroke="#253494" stroke-width="0.5"/>
<path d="M330,302 334,301 337,303 338,307 336,309Z" fill="#41b6c4" stroke="#41b6c4" stroke-width="0.5"/>
<path d="M336,309 338,307 340,306 343,307 344,311 344,316.5 340,313Z" fill="#225ea8" stroke="#225ea8" stroke-width="0.5"/>
<path d="M344,316.5 344,311 343,307 343,301 344,301 347,300 350,300 355,300 355,314 348,315Z" fill="#41b6c4" stroke="#41b6c4" stroke-width="1.4"/>
<path d="M350,298 352,292 359,288 364,288.5 367,296 365,298 363,299 355,299 350,300 347,300Z" fill="#41b6c4" stroke="#41b6c4" stroke-width="0.5"/>
<path d="M355,299 363,299 364,312 356,314.5 355,314Z" fill="#1d91c0" stroke="#1d91c0" stroke-width="0.5"/>
<path d="M363,299 365,299 365.5,312 364,312Z" fill="#41b6c4" stroke="#41b6c4" stroke-width="0.5"/>
<path d="M365,299 365,298 367,296 368,296 370.5,299 369,305 368.5,311.5 365.5,312Z" fill="#7fcdbb" stroke="#7fcdbb" stroke-width="0.5"/>
<path d="M370.5,292 371,294 375,291 386,292.5 394,292 396,298 392,305 384,312 382,316 376,316 372,312 368.5,311.5 369,305 370.5,299 368,296 367,296 364,288.5Z" fill="#225ea8" stroke="#225ea8" stroke-width="1.4"/>
<path d="M396,298 398,308 396,312 400,320 392,323 384.5,322 384.5,320 382,316 384,312 392,305Z" fill="#1d91c0" stroke="#1d91c0" stroke-width="1.4"/>
<path d="M398,308 405,305 415,299 419,304 425,312 428,316 423,314 415,316 405,315 402,319 400,320 396,312Z" fill="#1d91c0" stroke="#1d91c0" stroke-width="1.4"/>
<path d="M384.5,322 390,322 389,325 384,325Z" fill="#225ea8" stroke="#225ea8" stroke-width="0.5"/>
<path d="M384,325 389,325 392,323 395,330 394,336 390,337 390,342 386,335 383,331Z" fill="#225ea8" stroke="#225ea8" stroke-width="0.5"/>
<path d="M392,323 400,320 402,319 405,315 404,320 400,332 398,338 392,342 390,342 390,337 394,336 395,330Z" fill="#1d91c0" stroke="#1d91c0" stroke-width="1.4"/>
<path d="M404,320 405,315 415,316 423,314 428,316 434,318 432,325 431,332 431,345 429,351 428,358 430,362 425,360 418,359 413,358 412,347 405,348 400.7,343.8 394,344 392,342 398,338 400,332Z" fill="#7fcdbb" stroke="#7fcdbb" stroke-width="1.4"/>
<path d="M430,331 433,330 434,332 433,338 431,339Z" fill="#225ea8" stroke="#225ea8" stroke-width="0.5"/>
<path d="M433,330 441,328 442,331 454,339 453,343 454,350 455,356 447,358 441,354 434,350 429,351 431,345 431,344 433,338 434,332Z" fill="#7fcdbb" stroke="#7fcdbb" stroke-width="1.4"/>
<path d="M391.5,343.8 394,344 400.7,343.8 405,348 412,347 413,358 417.5,359.5 414.5,362.2 413,374.5 391.5,372.9 389.9,363.7 389.9,354.5Z" fill="#225ea8" stroke="#225ea8" stroke-width="1.4"/>
<path d="M413,358 418,359 425,360 430,362 428,358 429,351 434,350 439,353 439,361 439,366.8 434.4,368.3 433,367 425,373 420.6,374.5 413,374.5 414.5,362.2 417.5,359.5Z" fill="#41b6c4" stroke="#41b6c4" stroke-width="1.4"/>
<path d="M441,354 447,358 455,356 455.8,360.7 454.3,369.9 443.6,379.1 442,383.7 442,391.3 435.9,397.5 434.4,386.7 437.5,374.5 434.4,368.3 439,366.8 442,372.9 445.1,369.9Z" fill="#1d91c0" stroke="#1d91c0" stroke-width="1.4"/>
<path d="M439,353 441,354 442,358 445.1,369.9 442,372.9 439,366.8 439,361Z" fill="#225ea8" stroke="#225ea8" stroke-width="0.5"/>
<path d="M391.5,372.9 413,374.5 411.4,376 408.3,388.3 408.3,394.4 406.8,403.6 399.1,403.6 394.5,386.7Z" fill="#225ea8" stroke="#225ea8" stroke-width="1.4"/>
<path d="M411.4,376 413,374.5 420.6,374.5 422.1,376 428.3,385.2 419.1,392.9 409.9,395.9 408.3,388.3Z" fill="#1d91c0" stroke="#1d91c0" stroke-width="1.4"/>
<path d="M422.1,376 425,373 428.3,371.4 434.4,368.3 437.5,374.5 434.4,385.2 428.3,385.2Z" fill="#fff" stroke="#f2f2f2" stroke-width="1.4"/>
<path d="M399.1,403.6 406.8,403.6 409.9,395.9 419.1,392.9 428.3,385.2 434.4,386.7 435.9,397.5 434.4,400.5 428.3,409.7 420.6,415.9 409.9,418.9 403,417.4 402.2,409.7Z" fill="#41b6c4" stroke="#41b6c4" stroke-width="1.4"/>
<path d="M422.5,404 425,403.5 425,406.5 422.5,406.5Z" fill="#253494" stroke="#253494" stroke-width="0.5"/>
<path d="M303,283.5 304.5,283.5 304.5,285 303,285Z" fill="#41b6c4" stroke="#41b6c4" stroke-width="0.5"/>
<path d="M306,287 307.5,287 307.5,288.5 306,288.5Z" fill="#41b6c4" stroke="#41b6c4" stroke-width="0.5"/>
<path d="M492.5,380.5 494,380.5 494,382 492.5,382Z" fill="#253494" stroke="#253494" stroke-width="0.5"/>
<path d="M462.5,357.5 464,358 463.5,359.5 462.5,359Z" fill="#253494" stroke="#253494" stroke-width="0.5"/>
<path d="M388,330.5 389.3,330.5 389.3,331.8 388,331.8Z" fill="#225ea8" stroke="#225ea8" stroke-width="0.5"/></g>
<g stroke="#7a7a7a" stroke-width="0.45" stroke-linejoin="round"><path d="M124.4,148.6 109.1,146.8 103.2,145.6 91.5,147.4 79.7,150.9 78.5,154.5 72.6,156.8 67.9,158 67.4,160.4 75,160.4 70.3,162.7 62.1,166.2 56.8,169.8 57.4,173.3 65.6,174.5 53.8,179.2 40.3,185.1 41.5,185.6 56.2,180.4 67.9,176.8 73.8,173.3 78.5,172.1 85.6,169.2 91.5,169.8 97.4,170.9 102.1,171.5 105.6,173 107.9,173.3 109.1,179.2 110.3,182.7 107.9,183.9 105.6,175.6 102.1,170.4Z" fill="#c7e9b4"/>
<path d="M52,171.5 54.5,171 54,173 51.5,173Z" fill="#c7e9b4"/>
<path d="M57,176 60,175.5 59.5,177 57,177.5Z" fill="#c7e9b4"/>
<path d="M43.8,159.8 47.9,156.8 57.4,150.9 59.7,155.6 64.4,155.6 63.2,158 58.5,159.2 53.8,161.5 51.5,160.4 46.8,159.2Z" fill="#7fcdbb"/>
<path d="M64,145.6 68,145 69,146 65,146.6Z" fill="#7fcdbb"/>
<path d="M124.4,148.6 135,149.8 148,148 150,148.6 155,149.2 162.1,149.8 166.8,152.1 176.2,153.3 185,153 195,151 200,149 205,146 208,149 211,153 208,156 204,159 197,164 188,169 185,173 185,175 188,178 195,182 200,187 202,193 206,191 207,186 209,183 216,180 215,174 219,166 223,161 231,163 235,169 237,174 243,171 245,181 251,187 252.2,189.5 251.1,192.8 243.2,195.1 234.3,196.2 225.4,198.4 216.4,204 220.9,204 217.5,206.2 214.2,208.5 201.9,211.8 194.1,214.1 186.2,217.4 189.6,209.6 186.2,205.1 179.5,200.6 169.5,198.4 135,198.6 111.5,198.6 109.1,196.8 106.8,187.4 110.3,182.7 109.1,172.1 102.1,170.4Z" fill="#1d91c0"/>
<path d="M241,202.9 247.7,193.9 253.3,198.4 254.4,204 250,204Z" fill="#1d91c0"/>
<path d="M220.9,204 224.2,201.8 228.7,200.6 232.1,204 237.7,206.2 229.8,207.4 223.1,211.8 222,208.5 223.1,206.2Z" fill="#1d91c0"/>
<path d="M100.9,187.4 103.2,186.2 102.6,189.8 100.3,190.4Z" fill="#1d91c0"/>
<path d="M104.4,195.6 109.1,199.2 106.8,199.8Z" fill="#1d91c0"/>
<path d="M215,145 220,142 235,143 247,149 255,156 249,159 245,164 237,165 231,162 223,161 222,155 225,150 219,148Z" fill="#1d91c0"/>
<path d="M208,160 217,158 219,163 212,164Z" fill="#1d91c0"/>
<path d="M157.4,143.9 163.2,140.4 172.6,139.2 180.9,141.5 187.9,142.7 190.3,146.2 185.6,149.8 176.2,150.9 166.8,150.9 165.6,146.2 159.7,146.2Z" fill="#1d91c0"/>
<path d="M197.4,141.5 204.4,140.4 210.3,140.9 213.8,142.7 209.1,145.1 202.1,146.2 197.4,145.1Z" fill="#1d91c0"/>
<path d="M173.8,134.5 182.1,132.7 186.8,133.3 184.4,135.6 178.5,135.6Z" fill="#1d91c0"/>
<path d="M178.5,136.8 187.9,135.6 196.2,135.1 197.4,136.8 190.3,138.6 182.1,138.6Z" fill="#1d91c0"/>
<path d="M191.5,130.9 198.5,130.4 197.4,132.7 191.5,132.7Z" fill="#1d91c0"/>
<path d="M203.2,135.6 210.3,134.5 213.8,136.8 207.9,138.6 203.2,137.4Z" fill="#1d91c0"/>
<path d="M206.8,129.8 213.8,129.8 220.9,132.1 216.2,133.3 209.1,132.1Z" fill="#1d91c0"/>
<path d="M216.2,134.5 225.6,133.3 236.2,135.6 235,138 225.6,138 217.4,136.8Z" fill="#1d91c0"/>
<path d="M223.2,127.4 235,125.1 255,122.7 276,123.3 266,126.5 255,126.2 246.8,129.8 237.4,133.3 228,132.1 223.2,129.8Z" fill="#1d91c0"/>
<path d="M253.8,132.3 276,123.6 310.6,122.4 342.7,125.4 335.3,129.8 332.8,139.7 327.9,147.1 318,154.5 303.2,161.9 288.3,168.1 279.7,171.3 273.5,166.9 269.8,154.5 273.5,147.1 268.6,139.7 258.7,134.8Z" fill="url(#hatch)" stroke="#c8c8c8"/>
<path d="M320,158 324,156 336,157 337,161 330,163 323,162Z" fill="#7fcdbb"/>
<path d="M378,128.5 386,127.8 392,127 400,127.3 396,128.8 392,130 396,131.5 390,131.5 386,133.8 382,130.5Z" fill="#225ea8"/>
<path d="M457,147.2 450,145.8 446.5,142 449.5,137.5 457,134.5 468.2,133.5 466.5,135.5 457,137.5 452,140.5 452.5,144 458,146Z" fill="#7fcdbb"/>
<path d="M427.6,125.5 436.5,126.3 432,127.5Z" fill="#7fcdbb"/>
<path d="M494.7,125.5 508.8,129 512.3,130.4 519.4,131.2 508,130.5 496,127.5Z" fill="#7fcdbb"/>
<path d="M371.4,166.8 375.6,164 382.6,159.8 388.3,152.7 394.6,149.2 403.1,146.4 408.8,146 414.4,147.8 411.6,149.9 407.3,148.5 403.1,151.3 396.8,150.6 390.4,154.1 386.2,160.5 384,163.3 384.8,169.6 382.6,173.2 377.7,176 373.5,174.6 371.7,170.3Z" fill="#225ea8"/>
<path d="M386.2,160.5 390.4,154.1 396.8,150.6 401.7,152.7 403.8,156.9 400.3,159.8 398.9,164 394.6,168.2 396.1,171.8 393.9,177.4 392.5,181.6 386.2,182.3 384.8,179.5 382.6,173.2 384.8,169.6 384,163.3Z" fill="#41b6c4"/>
<path d="M401.7,152.7 407.3,148.5 411.6,149.9 413.7,154.1 414.4,161.2 418.6,165.4 415.8,170.3 408.8,171.1 402.4,169.6 401,164.7 404.5,161.2 406.6,158.3 403.8,156.9Z" fill="#41b6c4"/>
<path d="M351,178 355,175 358,178 357,182 361,186 365,190 364,193 357,195 352,196 355,192 353,189 354,185 351,182Z" fill="#c7e9b4"/>
<path d="M343,191 345,185 349,183 351,186 350,189 347,192Z" fill="#c7e9b4"/>
<path d="M353,200 359,199 368,194 371,197 377,200 376,205 377,210 377.3,212.1 368.2,215.6 359,212.8 360,207 355,203Z" fill="#41b6c4"/>
<path d="M342.8,214.2 345.6,212.4 359,212.8 368.2,215.6 367.5,218.4 363.2,222.6 361.8,226.2 356.9,230.4 351.2,231.8 349.8,233.2 346.3,230.4 343.5,229 342.1,225.5 343.5,220.5Z" fill="#41b6c4"/>
<path d="M368,194 374,193 375,197 371,197Z" fill="#c7e9b4"/>
<path d="M370,190 375,188 376,193 372,193Z" fill="#7fcdbb"/>
<path d="M376,187 381,185 390,187 391,194 388,196 391,200 388,203 379,202 377,200 375,197 376,193Z" fill="#41b6c4"/>
<path d="M378.4,179.5 382.6,176.7 383,183 381,185 378,184Z" fill="#7fcdbb"/>
<path d="M391,186 399,184 407,185 409,190 410,195 407,198 400,197 392,194Z" fill="#1d91c0"/>
<path d="M405.9,173.2 414.4,173.2 414.4,176.7 407.3,176.7Z" fill="#1d91c0"/>
<path d="M403.1,178.1 414.4,178.1 415.8,182 413,183 411,185 405,184 404,181Z" fill="#225ea8"/>
<path d="M411,183 420,182 424,187 424,192 420,192 410,192 409,187Z" fill="#41b6c4"/>
<path d="M388,196 392,194 400,197 397,199 391,199Z" fill="#41b6c4"/>
<path d="M397,199 407,198 407,200 400,201.5Z" fill="#1d91c0"/>
<path d="M385,204 391,200 397,200.5 396,204 389,204.5Z" fill="#c7e9b4"/>
<path d="M375,205 381,203 384,205 381,207 376,207Z" fill="#7fcdbb"/>
<path d="M391,205 396,204 399,207 397,209 402,210 403,214 402,218 395,211 390,209Z" fill="#1d91c0"/>
<path d="M396,203 407,201 405,205 402,207 397,206Z" fill="#253494"/>
<path d="M406,202 413,201 419,202 423,205 422,211 412,212 409,208 405,205Z" fill="#1d91c0"/>
<path d="M419,200 423,201 424,206 423,205Z" fill="#41b6c4"/>
<path d="M410,213 412,212 421,213 421,218 415,219 410,218Z" fill="#253494"/>
<path d="M402,207 409,208 411,214 408,217 404,215 403,210Z" fill="#253494"/>
<path d="M396,209 402,210 403,214 400,214Z" fill="#081d58"/>
<path d="M404,215 408,217 410,218 410,219 405,221 403,218Z" fill="#225ea8"/>
<path d="M380,207 388,205 390,209 395,214 400,220 402,222 398,224 396,228 393,228 395,223 391,219 386,215 382,212 380,211 377,210 376,207Z" fill="#1d91c0"/>
<path d="M389,227 396,228 395,230.5 390,229.5Z" fill="#1d91c0"/>
<path d="M381.6,214.9 382.3,217.7 383.7,224.8 380.2,224.8 380.2,219.8Z" fill="#1d91c0"/>
<path d="M405,221 410,219 416,219 413,222 410,224 413,230 410,231 406,225Z" fill="#1d91c0"/>
<path d="M414,234 420,234.5 419,235.5 414,235Z" fill="#225ea8"/>
<path d="M414.2,147.8 419.1,149.2 426.2,151.3 431.8,153.4 433.2,155.5 428.3,156.9 421.2,156.2 424.1,158.3 427.6,161.2 429,159.1 433.2,159.8 433.9,156.9 438.2,155.5 436.8,152 439.6,152.7 442.4,154.1 444.5,154.8 447.3,152.7 454.4,151.3 462.9,149.9 464.7,149.8 473.5,148.9 478.8,151.5 477,146.2 473.5,143.6 478.8,142.7 482.3,145.4 485.9,153.3 487.6,155.9 490.3,153.3 485.9,144.5 492.9,141 501.8,136.5 515.9,133.9 533.5,135.6 538.8,140.1 550,140.9 558.8,140.9 567.6,141.8 572.9,144.4 578.2,146.2 585.3,144.4 592.4,143.5 602.9,144.4 617,146.2 627.6,147.9 632.9,148.8 647,147.9 652.3,150.6 662.9,149.7 673.5,155 680.6,160.3 678.8,162.1 687.6,165.6 680.6,167.4 673.5,172.6 671,177 675,181 680,188 678,193 677,189 672,185 665,180 661,176 662.9,170.9 659.4,165.6 650.6,169.1 651,173 628,175 627,184 635,187 643,193 648,203 648,210 643,215 640,215.8 638.3,215.8 639,208 638,201 633,202 623,197 615,191 607,188 601,189 599,198 595,197 565,195 551,195 542,198 539,198 537,201 532,210 527,214 515,215 508,219 500,214 495,213 484.7,207.6 478.8,208.8 476.5,218.2 470.6,217 467,212.4 469.4,210 471.8,206.5 467,205.3 461.2,208.8 461.2,212.4 464.7,217 462,219 457,220 460,217 450,213 444,211 444,208 443,199 434,191 424,192 424,187 418,181 416,173 417,167 418,161 414,154Z" fill="#7fcdbb"/>
<path d="M642,186 649,194 656,199 659,206 655,202 647,194Z" fill="#7fcdbb"/>
<path d="M575.6,135.6 588.8,137.4 585.3,138.2 576.5,138.2Z" fill="#7fcdbb"/>
<path d="M590.6,137 597.6,137.7 596,138.5 590,138Z" fill="#7fcdbb"/>
<path d="M587,140.9 592.4,142.6 588,142Z" fill="#7fcdbb"/>
<path d="M542,198 551,195 565,195 576,196 592,197 595,197 599,198 602,202 609,204 601,207 598,211 594,213 584,217 570,215 555,209 548,201Z" fill="#081d58"/>
<path d="M539,198 542,199 548,201 555,209 570,215 584,217 594,213 598,211 601,207 609,204 602,202 599,198 601,189 607,188 615,191 623,197 633,202 638,201 639,208 638.3,215.8 632.5,218.3 625.8,223.3 622.5,220.8 617.5,225 621.7,229.2 629.2,230 625,235 630,240 634.2,246.7 635.8,255 635,254 631,261 622,268 614,271 608,271 602,267 596,269 593,270 586,265 584,258 581,252 582,253 578,251 570,255 562,255 551,253 543,251 544,248 537,241 533,235 525,231 522,225 523,222 528,220 532,216 532,210 537,201Z" fill="#41b6c4"/>
<path d="M632.5,218.3 638.3,215.8 640,217.5 636.7,224.2 638.3,226.7 633.3,226.7 631.7,223.3Z" fill="url(#hatch)" stroke="#c8c8c8"/>
<path d="M636.7,226.7 640.8,226.7 645,230.8 645.8,235 641.7,236.7 638.3,234.2 637.1,230Z" fill="#081d58"/>
<path d="M658.3,208.3 663.3,211.7 669.2,213.3 666.7,215.8 662.5,216.7 659.2,215Z" fill="#081d58"/>
<path d="M662.5,218.75 666.7,221.7 669.2,227.5 670.8,233.3 668.3,236.7 663.3,238.3 659.2,237.5 655,237.9 651.7,239.2 649.2,240.8 650.4,236.7 655,235 659.2,232.5 662.5,229.2 664.2,225 662.9,221.7Z" fill="#081d58"/>
<path d="M649.2,240 654.2,239.2 655,244.2 653.3,245.8 650.8,241.7Z" fill="#081d58"/>
<path d="M111,199 169.5,198.4 179.5,200.6 186.2,205.1 189.6,209.6 186.2,217.4 194.1,214.1 201.9,211.8 214.2,208.5 217.5,206.2 220.9,204 223.1,206.2 222,208.5 223.1,208.5 214.2,217.4 204.1,220.8 197.4,226.4 196.3,232 187.4,239.8 182,246 181.8,250 180.6,257 179.4,261.8 177,259.4 175.9,253.5 175,248.5 166,248.5 160,249.5 152,250 144,252 141,254 142,259.5 140,259 137,253 134,250 131,251 127,246 123,244.5 114,244.5 107,242.5 102,241 97,236 96,227 98,219 108,203Z" fill="#c7e9b4"/>
<path d="M1,271 6,274 8,277 5,278Z" fill="#c7e9b4"/>
<path d="M102,241 107,242.5 114,244.5 123,244.5 127,246 131,251 134,250 137,253 140,259 142,259.5 140,268 142,275 146,279 154,277 157,272 164,271.5 160,280 158,283 158.2,281.8 153.5,281.8 150,288.8 150,287.5 135,284 124,278 121,275 122,272 120,263 113,253 110,245 106.5,245 108,252 110,258 113,267 111.5,267 108,263 105,258 103.5,255 104,248Z" fill="#1d91c0"/>
<path d="M150,288.8 153.5,281.8 158.2,281.8 158.2,286.5 155.3,291.2 151.2,290.6Z" fill="#253494"/>
<path d="M157.1,287.6 162.9,285.3 170,287.6 165.3,290 161.8,293.5 158.2,291.2Z" fill="#225ea8"/>
<path d="M155.3,291.2 158.2,291.2 160.6,292.9 157,292.5Z" fill="#225ea8"/>
<path d="M161.8,293.5 165.3,290 170,287.6 168.8,297.1 165.3,299.4 161.8,295.9Z" fill="url(#hatch)" stroke="#c8c8c8"/>
<path d="M162.9,299.4 168.8,298.2 171.2,302.9 170,305.3 165.3,302.9Z" fill="#225ea8"/>
<path d="M170,304.1 177.1,302.9 180.6,304.1 181.8,307.6 178.2,306.5 174.7,307.6 171.2,305.3Z" fill="#41b6c4"/>
<path d="M168.8,270 174.7,267.1 181.8,268.8 188.8,272.4 193.5,274.7 186.5,275.3 180.6,272.4 174.7,270Z" fill="url(#hatch)" stroke="#c8c8c8"/>
<path d="M194.7,275.9 200.6,275.3 205.3,278.8 199.4,280 192.4,280Z" fill="#1a2a78"/>
<path d="M194.7,275.9 197,275.6 197,280 192.4,280Z" fill="#081d58"/>
<path d="M182.9,279.4 187.1,280 184.1,280.8Z" fill="#081d58"/>
<path d="M207.6,279.4 211.2,280 208,280.6Z" fill="url(#hatch)" stroke="#c8c8c8"/>
<path d="M184.1,257.1 187.6,258.2 186,259 185.3,265.3 184.5,259Z" fill="#081d58"/>
<path d="M219,300 221,300.5 220,302Z" fill="#081d58"/>
<path d="M181.8,307.6 186.5,299.4 195.9,295.9 193.5,304.1 200.6,308.8 205.3,313.5 210,320 206,324 200,323 200,333 196,333 190,327 184,327 178,325 180,315Z" fill="#225ea8"/>
<path d="M195.9,295.9 202.9,297.1 212.4,300.6 220.6,306.5 216,318 214.7,318.2 211.2,320 210,320 205.3,313.5 200.6,308.8 193.5,304.1Z" fill="url(#hatch)" stroke="#c8c8c8"/>
<path d="M220.6,306.5 227,312 225,322 222.4,323 216,318Z" fill="#081d58"/>
<path d="M227,312 236,312 234,322 225,322Z" fill="#081d58"/>
<path d="M236,312 241.7,317.5 238,322 234,322Z" fill="url(#hatch)" stroke="#c8c8c8"/>
<path d="M176,327 184,326 186,331 178,339 174,335Z" fill="#41b6c4"/>
<path d="M547,303 550,303 552,309 549,311Z" fill="#253494"/>
<path d="M575,253 581,252 584,258 586,265 593,270 587,276 586,280 589,285 590,290 592,295 591,300 590.4,300 588,292 585,287 579,286 575,280Z" fill="#7fcdbb"/>
<path d="M587,276 593,270 596,277 596,281 600,280 605,284 605,291 600,290 599,294 594,293 592,298 590.4,300 592.9,306.5 598.1,310.4 599.4,312.9 595.5,311.6 591,305.2 591,300 592,295 589,285 586,280Z" fill="#1a2a78"/>
<path d="M593,270 597,269 602,273 600,277 605,281 610,287 610,291 605,291 605,284 600,280 596,281 596,277Z" fill="#253494"/>
<path d="M599,292 605,291 610,291 611,295 605,299 601,298 599,294 600,290Z" fill="#225ea8"/>
<path d="M596,269 602,267 608,271 604,276 610,282 615,290 615,297 608,304 606,301 611,295 610,291 610,287 605,281 600,277 602,273Z" fill="#1d91c0"/>
<path d="M612,276 615,275 616,277 614,279 612,278Z" fill="#41b6c4"/>
<path d="M636,262 638,261 638,267 636.5,269Z" fill="url(#hatch)" stroke="#c8c8c8"/>
<path d="M595.5,311.6 599.4,312.9 603.3,319.4 604.6,324.6 602,323.9 596.8,316.8Z" fill="#41b6c4"/>
<path d="M618.8,324.6 624,319.4 630.5,314.2 634.4,310.4 639.5,314.2 636.9,316.8 631.8,316.8 622.7,322Z" fill="#1d91c0"/>
<path d="M628.5,315 630,314.6 629.8,316Z" fill="#081d58"/>
<path d="M583.9,312.9 589.1,314.2 596.8,322 604.6,331.1 608.5,337.5 608.5,342.7 605.9,342.7 599.4,337.5 592.9,328.5 587.8,319.4Z" fill="#225ea8"/>
<path d="M607.2,344 613.6,344.6 621.4,345.3 630.5,349.2 627.9,350.5 618.8,349.2 609.8,346.6Z" fill="#225ea8"/>
<path d="M617.5,323.3 622.7,322 631.8,316.8 636.9,316.8 636.9,319.4 638.2,325.9 634.4,331.1 633.1,337.5 629.2,337.5 620.1,334.9 617.5,329.8Z" fill="#225ea8"/>
<path d="M640.8,325.9 647.3,324.6 653.8,323.9 649.9,327.2 644.7,328.5 647.3,333.6 646,338.8 643.4,336.2 640.8,341.4 639.5,334.9Z" fill="#225ea8"/>
<path d="M633.1,350.5 640,349.5 647.3,349.2 645,351 639.5,353 634,352Z" fill="#225ea8"/>
<path d="M648.6,351.8 652.5,351.2 650,354.4Z" fill="#225ea8"/>
<path d="M660,322.5 661.5,323 661.5,328.5 659.5,327Z" fill="#225ea8"/>
<path d="M655.5,335.5 665.4,335.6 664,337 656.4,337Z" fill="#225ea8"/>
<path d="M653.8,350.5 657.6,349.8 655.1,351.8Z" fill="url(#hatch)" stroke="#c8c8c8"/>
<path d="M639,280 643,279 644,284 643,290 647,291 647,294 644,293 641,291 640,286Z" fill="#1d91c0"/>
<path d="M645,297 653,296 654,300 650,303 646,301Z" fill="#1d91c0"/>
<path d="M647,306 654,303 656,310 647,310Z" fill="#1d91c0"/>
<path d="M634.4,305.2 639.5,300 640,301 635.5,306Z" fill="#1d91c0"/>
<path d="M210,323 216,318 222.4,323 225,322 234,322 238,322 241.7,317.5 244,323 246,329 260,333 268,335 270,336 280,342 281,350 274,358 271,370 270,384 262,388 252,398 252.8,400 249.7,407.7 245.1,413.8 235.9,406.9 238,398 234,390 230,378 224,364 210,354 202,356 196,354 192,346 198,338 200,330 200,323 206,324Z" fill="#225ea8"/>
<path d="M174,340 180,334 186,331 190,327 196,333 200,333 198,338 192,346 196,354 202,356 203,374 200,375 190,368 184,360 176,348Z" fill="#1d91c0"/>
<path d="M202,356 210,354 224,364 230,378 220,382 210,384 204,376 203,374Z" fill="#225ea8"/>
<path d="M220,382 230,380 234,390 238,398 232,400 230,394 222,388Z" fill="#253494"/>
<path d="M202,376 206,390 202,400 201.8,415.3 202.2,427.6 204.2,439.9 205.5,450.6 208.5,459.8 213,466.5 221.5,471.5 231,474.5 232.9,472.1 226.7,469 222.1,465.9 216,462.9 212.9,458.3 211.4,449.1 209.1,439.9 208.3,430.7 206.8,418.4 206,407.7 206.8,400 208,390 204,376Z" fill="#253494"/>
<path d="M206.8,388 210,384 220,382 222,388 230,394 232,400 236,399 235.9,406.9 233.6,407.7 232.9,413.8 237.5,419.9 237.5,427.6 228.3,430.7 225.2,436.8 226.7,439.9 223.7,446 226.7,453.7 223.7,459.8 222.1,464.4 226.7,469 234.4,471.3 232.9,472.1 226.7,469 222.1,465.9 216,462.9 212.9,458.3 211.4,449.1 209.1,439.9 208.3,430.7 206.8,418.4 206,407.7 206.8,400Z" fill="url(#hatch)" stroke="#c8c8c8"/>
<path d="M233.6,407.7 235.9,406.9 245.1,413.8 242.1,419.2 235.9,418.4 232.9,413.8Z" fill="#1d91c0"/>
<path d="M475.8,360.7 478.8,368.3 474.2,380.6 469.6,394.4 463.5,392.9 462,383.7 465,371.4 471.2,368.3Z" fill="#41b6c4"/>
<path d="M666.5,330.4 670.4,329.1 674.2,330.4 675.5,336.2 679.4,333.6 682.7,332.4 690.4,334.6 690.1,351.8 685.9,350.5 682.7,349.8 684.6,347.9 684,342.1 679.4,339.5 674.9,338.2 671.7,338.2 670.4,334.9 667.1,331.7Z" fill="#225ea8"/>
<path d="M690.4,334.6 693.7,335.6 698.8,338.8 702.1,343.4 705.3,345.3 704,347.9 709.2,352.4 711.8,355.7 705.3,353.7 700.1,349.8 696.2,351.8 690.1,351.8Z" fill="url(#hatch)" stroke="#c8c8c8"/>
<path d="M707.5,341.4 716,337 718.3,338 709,343Z" fill="url(#hatch)" stroke="#c8c8c8"/>
<path d="M769.6,375.1 773,373 771,376Z" fill="#225ea8"/>
<path d="M774,372 777,370.5 776,372Z" fill="#225ea8"/>
<path d="M735,367 738,366 737,369Z" fill="url(#hatch)" stroke="#c8c8c8"/>
<path d="M745,365 747,364 748,368 746,369Z" fill="url(#hatch)" stroke="#c8c8c8"/>
<path d="M737,379 740,382 739,383 736,380Z" fill="url(#hatch)" stroke="#c8c8c8"/>
<path d="M616.7,416.7 620.2,408.5 619.1,397.9 621.4,386.1 627.3,382.6 639.1,379.6 645,373.2 650.8,366.1 656.7,364.4 661.4,366.1 663.8,361.4 668.5,357.3 673.2,359.1 679.1,360.2 675.5,367.3 684.9,374.4 688.5,367.3 692.6,356.1 696.7,366.1 697.9,376.7 704.9,387.3 708.5,395.5 706.1,404.9 701.4,414.4 694.4,422 688,426 680,428 676,430 668,428 667,422 666.1,414.4 661.4,419.1 655.5,412 646.1,412 635.5,414.4 626.1,419.1 617.9,419.6Z" fill="#7fcdbb"/>
<path d="M671,436 679,436 674,442 670,442Z" fill="#7fcdbb"/>
<path d="M742,419 746,426 750,427 740,436 736,437 738,432 744,428Z" fill="#41b6c4"/>
<path d="M732,435 734,438 724,444 712,450 708,448 718,442Z" fill="#41b6c4"/>
<path d="M409,195 418,191 424,192 434,191 443,199 444,208 440,204 432,208 424,206 423,205 419,202 418,199 410,199 407,198Z" fill="url(#hatch)" stroke="#c8c8c8"/>
<path d="M422,206 424,206 432,208 440,204 444,211 450,213 460,217 459,219 448,219 436,218 425,218 422,216 421,213Z" fill="#fff"/>
<path d="M461.2,208.8 467,205.3 471.8,206.5 469.4,210 467,212.4 470.6,217 476.5,218.2 478.8,224 475.3,230 470.6,227.6 468.2,223 464.7,217 461.2,212.4Z" fill="#fff"/>
<path d="M420,222 425,218 436,218 448,219 456,221 458,228 450,230 442,231 436,232 425,230 420,225Z" fill="#225ea8"/>
<path d="M419,219 423,220 421,221.5Z" fill="#225ea8"/>
<path d="M457,220 462,219 464.7,217 468.2,223 469.4,224 465,228 458,228Z" fill="#1d91c0"/>
<path d="M476.5,219.4 485.9,217 492.9,219.4 502.4,224.1 509.4,228.8 500,234.7 492.9,228.8 483.5,227.6 475.3,230 478.8,224Z" fill="url(#hatch)" stroke="#c8c8c8"/>
<path d="M478.8,208.8 484.7,207.6 495,213 500,214 508,219 511,223 509,228 502.4,224.1 492.9,219.4 485.9,217 476.5,219.4 476.5,218.2Z" fill="#225ea8"/>
<path d="M508,219 515,215 527,214 532,210 532,216 528,220 523,222 515,223 511,223Z" fill="#41b6c4"/>
<path d="M510,223 515,223 522,224 523,229 517,229 514,227 509,228Z" fill="#41b6c4"/>
<path d="M502.4,224.1 509,228 514,227 517,229 519,228 518,235 515,242 507,247 500,250 496,247 497.6,246.5 500,234.7 509.4,228.8Z" fill="url(#hatch)" stroke="#c8c8c8"/>
<path d="M518,231 525,231 528,235 526,237 529,241 525,251 520,255 522,261 518,265 510,261 500,255 500,250 507,247 515,242 518,235Z" fill="#41b6c4"/>
<path d="M526,237 533,235 537,241 544,248 543,251 551,253 565,255 570,255 578,251 580,257 574,263 570,269 564,271 554,277 548,287 546,303 542,307 536,295 530,279 528,272 520,270 518,265 522,261 520,255 525,251 529,241Z" fill="#1d91c0"/>
<path d="M563,254 567,254 567,256 563,256Z" fill="#081d58"/>
<path d="M518,229 525,229 525,231 518,231Z" fill="url(#hatch)" stroke="#c8c8c8"/>
<path d="M458.8,224 469.4,224 475.3,230 483.5,227.6 492.9,228.8 500,234.7 497.6,246.5 500,250 504,257 497,258 491,257 483,257 477,254 470,249 469,246 463,239 459,229 457.6,228.8Z" fill="#1d91c0"/>
<path d="M450,231 459,229 463,239 469,246 470,249 463,250 450,244 449,238Z" fill="#1d91c0"/>
<path d="M442,232 453,230 454,230.5 450,231 449,238 450,241 445,242 442,238Z" fill="#253494"/>
<path d="M440,238.2 442,238 445,242 450,244 446,249 441.2,250Z" fill="#7fcdbb"/>
<path d="M433,234 437.6,234 436,236 432,235.5Z" fill="#41b6c4"/>
<path d="M441.2,250 446,249 450,244 463,250 470,249 473,254 478,262 481,266 487,267 490,258 495,265 499,269 495,277 489,281 485,283 482.3,278.5 471.8,282 460.5,282.7 456.2,276.4 451.3,270 447,259 444,253Z" fill="#7fcdbb"/>
<path d="M469.5,248.5 477,254 483,257 490,257.5 489,259 487,267 481,266 478,262 473,254Z" fill="#fff"/>
<path d="M460.5,282.7 471.8,282 482.3,278.5 483.8,283.4 480.9,286.9 468.2,291.2 462.6,294 460.5,290.5Z" fill="url(#hatch)" stroke="#c8c8c8"/>
<path d="M487,267 490,258 495,265 499,269 495,277 489,281 485,283 483.8,283.4 482.3,278.5 485,272Z" fill="#7fcdbb"/>
<path d="M349.8,234.6 357.6,235.3 358.3,240.3 354.8,244.5 354.8,247 343,253 342.5,256 333,255 338,249 340.6,247 342.8,240.3 347.7,238.2Z" fill="#41b6c4"/>
<path d="M333,255 342.5,256 342.5,259 336,259.5 333,271 323.5,271.5 327,262Z" fill="url(#hatch)" stroke="#c8c8c8"/>
<path d="M323.5,272 333,271.5 336,259.5 342.5,259 342.5,256 349,262 349.5,287 335,287.5 332,286 325,284 325,277Z" fill="#253494"/>
<path d="M342.5,256 343,253 354.8,247 354.8,244.5 358.3,240.3 357.6,235.3 366.8,231.1 380.9,230.4 379.5,238.9 384.4,247 385,252 385,261 389,266 372,277 349,262Z" fill="#1a2a78"/>
<path d="M380.9,230.4 385.8,230.4 385.1,236.8 387.9,241.7 384.4,247 379.5,238.9Z" fill="#253494"/>
<path d="M384.4,247 387.9,241.7 395,243 406,245 410,242 418,245 419,255 419,276 398,266 395,268 389,266 385,261 385,252Z" fill="url(#hatch)" stroke="#c8c8c8"/>
<path d="M418,245 424,244 430,245 436,246 440,255 444,265 446,270 419,270Z" fill="#081d58"/>
<path d="M349,262 372,277 372.5,280 370.5,286 364,288.5 359,288 352,292 350,298 347,300 344,301 341,297 336,293 335,287.5 349.5,287Z" fill="#41b6c4"/>
<path d="M372,277 389,266 395,268 398,275 397,290 394,292 386,292.5 375,291 371,294 364,288.5 370.5,286 372.5,280Z" fill="#225ea8"/>
<path d="M395,268 398,266 417,276 416,286 414,292 415,299 405,305 399,308 396,298 394,292 397,290 398,275Z" fill="#41b6c4"/>
<path d="M419,270 446,270 447,273 450,281 447,285 447,290 443,295 441,302 439,296 437,301 430,302 421,301 419,304 415,299 414,292 416,286 417,276 419,276Z" fill="#7fcdbb"/>
<path d="M419,304 421,301 430,302 437,301 439,296 441,302 442,307 444,313 439,317 434,318 428,316 425,312Z" fill="#081d58"/>
<path d="M447,282 451.3,280.6 457,288.3 460.5,293.3 459.8,294.7 455.5,290.5 447,289Z" fill="url(#hatch)" stroke="#c8c8c8"/>
<path d="M443.5,294.7 447,289 455.5,290.5 459.8,294.7 461.2,298.2 464.7,301 473.2,306.7 469.6,312 465,315 458,317 452,318 445,314 444,313 442,307 441,302Z" fill="#225ea8"/>
<path d="M461.2,298.2 464.7,299.6 480.2,296.1 479.5,301.8 475.3,312 467,322 461,328 458,332 458,317 465,315 469.6,312 473.2,306.7 464.7,301Z" fill="#1d91c0"/>
<path d="M443,319 439,317 444,313 445,314 452,318 458,317 458,332 454,339 442,331 441,328Z" fill="#1d91c0"/>
<path d="M434,318 439,317 443,319 441,328 433,330 432,325Z" fill="#41b6c4"/>
<path d="M322,289 325,284 332,286 335,287.5 336,293 334,295 330,295 324,295 323,292Z" fill="#41b6c4"/>
<path d="M324,295 330,295 330,297 326,298Z" fill="#1d91c0"/>
<path d="M326,298 330,296 335,295 336,293 341,297 343,301 343,307 340,306 337,303 334,301 330,302Z" fill="#253494"/>
<path d="M330,302 334,301 337,303 338,307 336,309Z" fill="#41b6c4"/>
<path d="M336,309 338,307 340,306 343,307 344,311 344,316.5 340,313Z" fill="#225ea8"/>
<path d="M344,316.5 344,311 343,307 343,301 344,301 347,300 350,300 355,300 355,314 348,315Z" fill="#41b6c4"/>
<path d="M350,298 352,292 359,288 364,288.5 367,296 365,298 363,299 355,299 350,300 347,300Z" fill="#41b6c4"/>
<path d="M355,299 363,299 364,312 356,314.5 355,314Z" fill="#1d91c0"/>
<path d="M363,299 365,299 365.5,312 364,312Z" fill="#41b6c4"/>
<path d="M365,299 365,298 367,296 368,296 370.5,299 369,305 368.5,311.5 365.5,312Z" fill="#7fcdbb"/>
<path d="M370.5,292 371,294 375,291 386,292.5 394,292 396,298 392,305 384,312 382,316 376,316 372,312 368.5,311.5 369,305 370.5,299 368,296 367,296 364,288.5Z" fill="#225ea8"/>
<path d="M396,298 398,308 396,312 400,320 392,323 384.5,322 384.5,320 382,316 384,312 392,305Z" fill="#1d91c0"/>
<path d="M398,308 405,305 415,299 419,304 425,312 428,316 423,314 415,316 405,315 402,319 400,320 396,312Z" fill="#1d91c0"/>
<path d="M384.5,322 390,322 389,325 384,325Z" fill="#225ea8"/>
<path d="M384,325 389,325 392,323 395,330 394,336 390,337 390,342 386,335 383,331Z" fill="#225ea8"/>
<path d="M392,323 400,320 402,319 405,315 404,320 400,332 398,338 392,342 390,342 390,337 394,336 395,330Z" fill="#1d91c0"/>
<path d="M404,320 405,315 415,316 423,314 428,316 434,318 432,325 431,332 431,345 429,351 428,358 430,362 425,360 418,359 413,358 412,347 405,348 400.7,343.8 394,344 392,342 398,338 400,332Z" fill="#7fcdbb"/>
<path d="M430,331 433,330 434,332 433,338 431,339Z" fill="#225ea8"/>
<path d="M433,330 441,328 442,331 454,339 453,343 454,350 455,356 447,358 441,354 434,350 429,351 431,345 431,344 433,338 434,332Z" fill="#7fcdbb"/>
<path d="M391.5,343.8 394,344 400.7,343.8 405,348 412,347 413,358 417.5,359.5 414.5,362.2 413,374.5 391.5,372.9 389.9,363.7 389.9,354.5Z" fill="#225ea8"/>
<path d="M413,358 418,359 425,360 430,362 428,358 429,351 434,350 439,353 439,361 439,366.8 434.4,368.3 433,367 425,373 420.6,374.5 413,374.5 414.5,362.2 417.5,359.5Z" fill="#41b6c4"/>
<path d="M441,354 447,358 455,356 455.8,360.7 454.3,369.9 443.6,379.1 442,383.7 442,391.3 435.9,397.5 434.4,386.7 437.5,374.5 434.4,368.3 439,366.8 442,372.9 445.1,369.9Z" fill="#1d91c0"/>
<path d="M439,353 441,354 442,358 445.1,369.9 442,372.9 439,366.8 439,361Z" fill="#225ea8"/>
<path d="M391.5,372.9 413,374.5 411.4,376 408.3,388.3 408.3,394.4 406.8,403.6 399.1,403.6 394.5,386.7Z" fill="#225ea8"/>
<path d="M411.4,376 413,374.5 420.6,374.5 422.1,376 428.3,385.2 419.1,392.9 409.9,395.9 408.3,388.3Z" fill="#1d91c0"/>
<path d="M422.1,376 425,373 428.3,371.4 434.4,368.3 437.5,374.5 434.4,385.2 428.3,385.2Z" fill="url(#hatch)" stroke="#c8c8c8"/>
<path d="M399.1,403.6 406.8,403.6 409.9,395.9 419.1,392.9 428.3,385.2 434.4,386.7 435.9,397.5 434.4,400.5 428.3,409.7 420.6,415.9 409.9,418.9 403,417.4 402.2,409.7Z" fill="#41b6c4"/>
<path d="M422.5,404 425,403.5 425,406.5 422.5,406.5Z" fill="#253494"/>
<path d="M461.2,208.8 458,204 457.6,194.7 462,192 470,188 480,185 490,184 500,183 510,186 522,193 539,198" fill="none"/>
<path d="M303,283.5 304.5,283.5 304.5,285 303,285Z" fill="#41b6c4"/>
<path d="M306,287 307.5,287 307.5,288.5 306,288.5Z" fill="#41b6c4"/>
<path d="M492.5,380.5 494,380.5 494,382 492.5,382Z" fill="#253494"/>
<path d="M462.5,357.5 464,358 463.5,359.5 462.5,359Z" fill="#253494"/>
<path d="M388,330.5 389.3,330.5 389.3,331.8 388,331.8Z" fill="#225ea8"/></g>
</g>
<!-- legend -->
<g>
<rect x="98.5" y="518.5" width="48" height="10" fill="url(#hatch)" stroke="#bbb" stroke-width="1"/>
<line x1="122.5" y1="515" x2="122.5" y2="518" stroke="#bbb"/>
<g stroke="#999" stroke-width="0.8"><line x1="166.5" y1="515" x2="166.5" y2="518.5"/><line x1="224.9" y1="515" x2="224.9" y2="518.5"/><line x1="283.3" y1="515" x2="283.3" y2="518.5"/><line x1="341.7" y1="515" x2="341.7" y2="518.5"/><line x1="400.1" y1="515" x2="400.1" y2="518.5"/><line x1="458.5" y1="515" x2="458.5" y2="518.5"/><line x1="516.9" y1="515" x2="516.9" y2="518.5"/><line x1="575.3" y1="515" x2="575.3" y2="518.5"/><line x1="633.7" y1="515" x2="633.7" y2="518.5"/><line x1="692.1" y1="515" x2="692.1" y2="518.5"/></g>
<g stroke="#aaa" stroke-width="0.6">
<rect x="166.5" y="518.5" width="58.4" height="10" fill="#fcfed6"/>
<rect x="224.9" y="518.5" width="58.4" height="10" fill="#ebf5ab"/>
<rect x="283.3" y="518.5" width="58.4" height="10" fill="#c7e9b4"/>
<rect x="341.7" y="518.5" width="58.4" height="10" fill="#7fcdbb"/>
<rect x="400.1" y="518.5" width="58.4" height="10" fill="#41b6c4"/>
<rect x="458.5" y="518.5" width="58.4" height="10" fill="#1d91c0"/>
<rect x="516.9" y="518.5" width="58.4" height="10" fill="#225ea8"/>
<rect x="575.3" y="518.5" width="58.4" height="10" fill="#253494"/>
<rect x="633.7" y="518.5" width="58.4" height="10" fill="#1a2a78"/>
<path d="M692.1 518.5 H746 L751 523.5 L746 528.5 H692.1 Z" fill="#081d58"/>
</g>
</g>
</svg>
<div class="lab" style="left:122px">No data</div>
<div class="lab" style="left:167px">$0</div>
<div class="lab" style="left:225px">$0</div>
<div class="lab" style="left:283px">$2.5</div>
<div class="lab" style="left:342px">$3</div>
<div class="lab" style="left:400px">$3.5</div>
<div class="lab" style="left:458px">$4</div>
<div class="lab" style="left:517px">$4.5</div>
<div class="lab" style="left:575px">$5</div>
<div class="lab" style="left:634px">$5.5</div>
<div class="lab" style="left:692px">$6</div>

<div class="t foot" style="left:16.5px;top:549px"><b>Data source:</b> FAO and World Bank (2025), using data and methods from Herforth et al. (2022)</div>
<div class="t foot" style="left:16.5px;top:569px"><b>Note:</b> This data is expressed in international-$ at 2021 prices.</div>
<div class="t foot" style="right:18.5px;top:549px">food-prices | CC BY</div>
</body></html>
